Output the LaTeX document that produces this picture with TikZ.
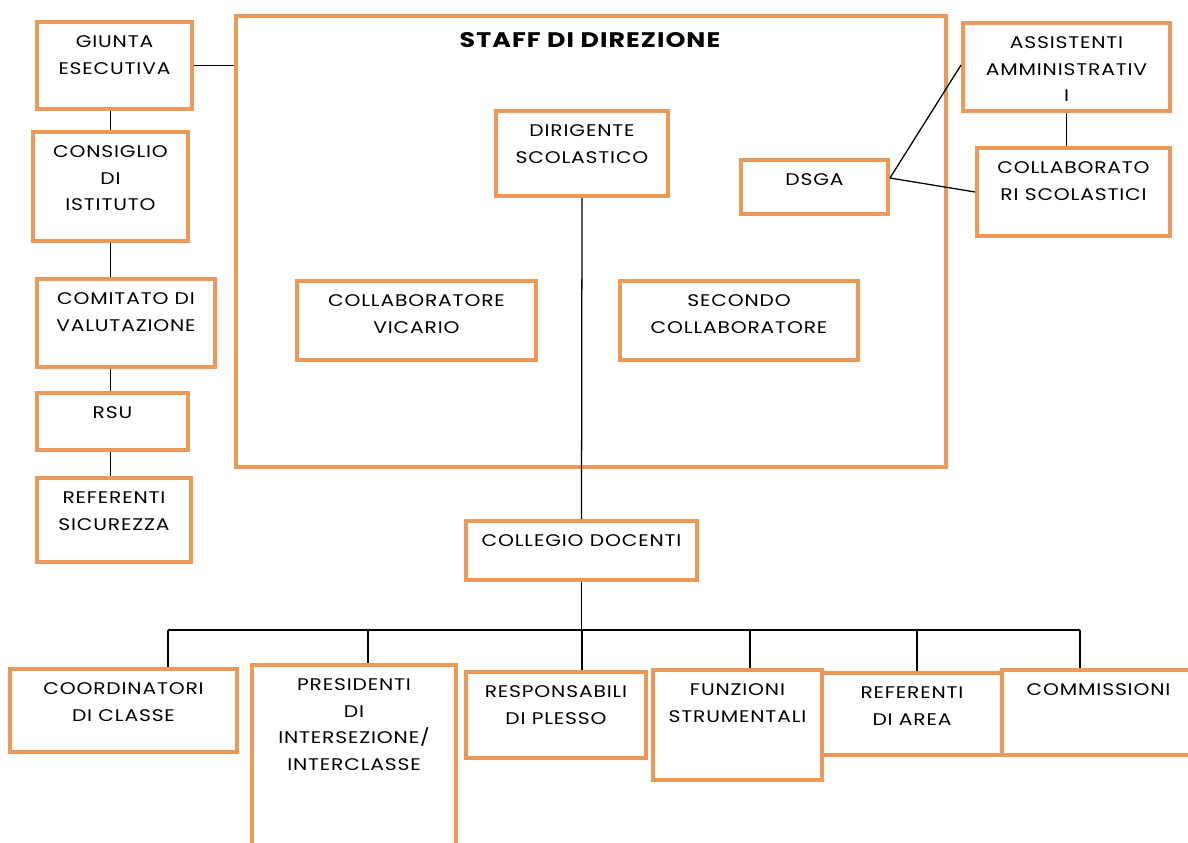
\documentclass[tikz,border=0pt]{standalone}
\usepackage{fontspec}
\setmainfont{Poppins}[FakeStretch=1.2, LetterSpace=5]
\definecolor{boxorange}{RGB}{236,152,88}

\newdimen\pxu \pxu=0.025cm
\newcommand{\boxtext}[3]{\parbox[c][#2\pxu][t]{#1\pxu}{\centering\vspace*{14\pxu}#3}}

\tikzset{
    orgbox/.style={draw=boxorange, line width=2.8pt, fill=white, inner sep=0pt,
        font=\fontsize{12}{18.8}\selectfont},
    link/.style={draw=black, line width=0.9pt}
}

\begin{document}
\begin{tikzpicture}[x=0.025cm, y=-0.025cm]
        \useasboundingbox (0,0) rectangle (1188,842);
        \clip (0,0) rectangle (1188,842);

        % left column
        \node[orgbox] (giunta) at (114.5,65.5) {\boxtext{155}{87}{GIUNTA\\ESECUTIVA}};
        \node[orgbox] (consiglio) at (110.5,186.5) {\boxtext{155}{109}{CONSIGLIO\\DI\\ISTITUTO}};
        \node[orgbox] (comitato) at (126,323) {\boxtext{178}{88}{COMITATO DI\\VALUTAZIONE}};
        \node[orgbox] (rsu) at (112.5,421.5) {\boxtext{151}{57}{RSU}};
        \node[orgbox] (sicurezza) at (114,520) {\boxtext{154}{84}{REFERENTI\\SICUREZZA}};

        % staff
        \node[orgbox, minimum width=17.75cm, minimum height=11.275cm] (staff) at (591,241.5) {};
        \node[font=\bfseries\fontsize{15}{18}\selectfont] (stafftitle) at (590,40) {STAFF DI DIREZIONE};
        \node[orgbox] (dirigente) at (582,153.5) {\boxtext{172}{85}{DIRIGENTE\\SCOLASTICO}};
        \node[orgbox] (vicario) at (416.5,320.5) {\boxtext{239}{79}{COLLABORATORE\\VICARIO}};
        \node[orgbox] (secondo) at (739,320.5) {\boxtext{238}{79}{SECONDO\\COLLABORATORE}};
        \node[orgbox] (dsga) at (814.5,187) {\boxtext{147}{54}{DSGA}};

        % right column
        \node[orgbox] (assistenti) at (1066.5,67) {\boxtext{207}{88}{ASSISTENTI\\AMMINISTRATIV\\I}};
        \node[orgbox] (bidelli) at (1073.5,192) {\boxtext{193}{88}{COLLABORATO\\RI SCOLASTICI}};

        % collegio and below
        \node[orgbox] (collegio) at (581.5,550.5) {\boxtext{231}{59}{COLLEGIO DOCENTI}};
        \node[orgbox] (coordinatori) at (123.5,710.5) {\boxtext{227}{83}{COORDINATORI\\DI CLASSE}};
        \node[orgbox] (presidenti) at (354,757.5) {\boxtext{204}{185}{PRESIDENTI\\DI\\INTERSEZIONE/\\INTERCLASSE}};
        \node[orgbox] (plesso) at (556,715) {\boxtext{180}{86}{RESPONSABILI\\DI PLESSO}};
        \node[orgbox] (funzioni) at (737.5,725) {\boxtext{169}{110}{FUNZIONI\\STRUMENTALI}};
        \node[orgbox] (area) at (912,714) {\boxtext{180}{82}{REFERENTI\\DI AREA}};
        \node[orgbox] (commissioni) at (1098.5,712.5) {\boxtext{193}{85}{COMMISSIONI}};

        % Drawing lines between the boxes
        \draw[link] (giunta.east) -- (giunta.east -| staff.west);
        \draw[link] (giunta.south -| consiglio) -- (consiglio.north);
        \draw[link] (consiglio.south) -- (consiglio.south |- comitato.north);
        \draw[link] (comitato.south -| consiglio) -- (consiglio |- rsu.north);
        \draw[link] (rsu.south -| consiglio) -- (consiglio |- sicurezza.north);
        \draw[link] (dirigente.south) -- (collegio.north);

        \coordinate (dsgaport) at ([yshift=0.225cm]dsga.east);
        \draw[link] (dsgaport) -- ([yshift=0.05cm]assistenti.west);
        \draw[link] (dsgaport) -- (bidelli.west);
        \draw[link] (assistenti.south) -- (assistenti.south |- bidelli.north);

        \coordinate (busleft) at (168,630);
        \coordinate (busright) at (1080,630);
        \draw[link] (collegio.south) -- (collegio.south |- busleft);
        \draw[link] (busleft) -- (busright);
        \foreach \x/\n in {168/coordinatori, 368/presidenti, 582/plesso, 750/funzioni, 917/area, 1080/commissioni} {
            \coordinate (drop) at (\x,630);
            \draw[link] (drop) -- (drop |- \n.north);
        }
    \end{tikzpicture}
\end{document}
